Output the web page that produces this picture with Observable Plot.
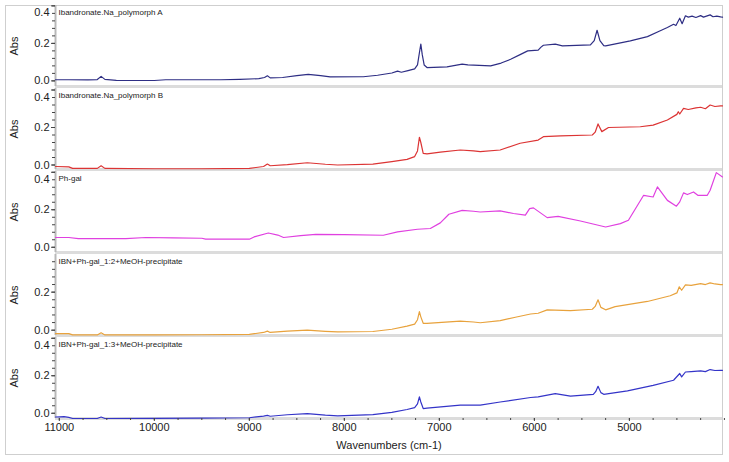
<!DOCTYPE html>
<html>
<head>
<meta charset="utf-8">
<script src="https://cdn.jsdelivr.net/npm/d3@7"></script>
<script src="https://cdn.jsdelivr.net/npm/@observablehq/plot@0.6"></script>
<style>
  html, body { margin: 0; padding: 0; background: #fff; }
  #wrap { position: relative; width: 729px; height: 462px; overflow: hidden; font-family: "Liberation Sans", Arial, sans-serif; }
  #frame { position: absolute; left: 5px; top: 5px; width: 716px; height: 448px; border: 1.5px solid #cfcfcf; }
  #wrap svg { position: absolute; left: 0; }
</style>
</head>
<body>
<div id="wrap"><div id="frame"></div></div>
<script>
// ---- data (wavenumber cm-1, absorbance) ----
const titles = [
  "Ibandronate.Na_polymorph A",
  "Ibandronate.Na_polymorph B",
  "Ph-gal",
  "IBN+Ph-gal_1:2+MeOH-precipitate",
  "IBN+Ph-gal_1:3+MeOH-precipitate"
];
const colors = ["#2e2e84", "#dc3434", "#e040e0", "#e8a23c", "#3434c8"];

const wnA  = [11040,10900,10700,10600,10560,10520,10400,10000,9880,9300,9100,8900,8840,8810,8780,8650,8500,8380,8250,8150,7800,7650,7500,7440,7400,7330,7260,7230,7210,7195,7180,7160,7130,6920,6760,6700,6640,6460,6350,6250,6150,6070,5960,5930,5905,5780,5705,5410,5370,5340,5310,5270,5250,4990,4810,4675,4600,4570,4535,4510,4470,4445,4410,4380,4340,4300,4250,4220,4150,4120,4080,4040,4020];
const absA = [0.006,0.006,0.005,0.007,0.024,0.008,0.003,0.002,0.006,0.006,0.008,0.012,0.018,0.027,0.016,0.018,0.028,0.035,0.028,0.021,0.022,0.030,0.042,0.052,0.046,0.055,0.064,0.085,0.150,0.196,0.140,0.085,0.071,0.075,0.089,0.085,0.084,0.080,0.095,0.115,0.140,0.160,0.164,0.180,0.190,0.196,0.187,0.192,0.215,0.270,0.215,0.188,0.187,0.213,0.236,0.267,0.285,0.293,0.302,0.295,0.334,0.305,0.347,0.340,0.345,0.338,0.348,0.340,0.352,0.342,0.345,0.341,0.340];

const wnB  = [11040,10900,10860,10600,10560,10520,10000,9500,9000,8850,8810,8780,8600,8390,8200,8070,7700,7500,7340,7260,7230,7210,7195,7170,7130,6990,6780,6640,6570,6360,6150,5960,5905,5725,5390,5360,5330,5290,5220,4885,4750,4600,4500,4485,4470,4430,4380,4300,4250,4200,4150,4100,4040,4020];
const absB = [-0.008,-0.010,-0.018,-0.018,-0.004,-0.018,-0.020,-0.020,-0.018,-0.008,0.005,-0.004,0.002,0.012,0.004,0.000,0.005,0.018,0.030,0.045,0.075,0.148,0.120,0.062,0.059,0.069,0.080,0.075,0.071,0.080,0.116,0.133,0.151,0.155,0.160,0.175,0.219,0.178,0.200,0.204,0.213,0.240,0.270,0.284,0.272,0.302,0.296,0.305,0.308,0.300,0.320,0.312,0.315,0.315];

const wnC  = [11040,10900,10800,10300,10090,9800,9500,9460,9000,8950,8800,8700,8640,8460,8300,8000,7590,7440,7230,7095,6990,6900,6760,6640,6570,6360,6220,6095,6050,6010,5865,5750,5515,5250,5095,5010,4850,4750,4705,4600,4505,4470,4430,4390,4325,4280,4180,4150,4085,4020];
const absC = [0.052,0.052,0.046,0.046,0.052,0.050,0.048,0.043,0.043,0.055,0.076,0.065,0.052,0.062,0.069,0.067,0.064,0.082,0.096,0.100,0.130,0.176,0.197,0.192,0.188,0.194,0.180,0.171,0.206,0.210,0.158,0.165,0.140,0.108,0.126,0.144,0.277,0.268,0.322,0.250,0.219,0.242,0.290,0.281,0.295,0.277,0.277,0.304,0.398,0.375];

const wnD  = [11040,10900,10860,10600,10560,10520,10000,9500,9000,8850,8810,8780,8600,8390,8200,8070,7700,7500,7340,7260,7230,7210,7195,7170,7130,6780,6640,6570,6360,6200,6040,5960,5865,5620,5390,5360,5330,5300,5250,5150,4810,4570,4500,4475,4450,4410,4350,4250,4200,4150,4100,4040,4020];
const absD = [-0.018,-0.018,-0.025,-0.025,-0.014,-0.025,-0.025,-0.024,-0.022,-0.012,-0.005,-0.012,-0.005,0.000,-0.006,-0.009,-0.007,0.005,0.021,0.032,0.055,0.098,0.070,0.036,0.036,0.048,0.043,0.039,0.050,0.068,0.085,0.089,0.107,0.103,0.110,0.125,0.160,0.120,0.107,0.124,0.151,0.181,0.196,0.228,0.210,0.238,0.236,0.245,0.240,0.249,0.243,0.240,0.240];

const wnE  = [11040,10950,10900,10860,10600,10560,10520,10000,9500,9000,8850,8810,8780,8600,8390,8200,8070,7700,7500,7340,7260,7230,7210,7195,7170,7130,6780,6570,6360,6040,5960,5780,5620,5380,5355,5330,5300,5270,5020,4750,4535,4470,4450,4410,4350,4250,4200,4150,4100,4040,4020];
const absE = [-0.020,-0.018,-0.022,-0.028,-0.028,-0.020,-0.028,-0.027,-0.026,-0.024,-0.015,-0.011,-0.016,-0.008,-0.002,-0.010,-0.014,-0.007,0.005,0.020,0.030,0.050,0.087,0.060,0.025,0.027,0.043,0.043,0.060,0.084,0.087,0.105,0.091,0.101,0.115,0.144,0.110,0.101,0.119,0.149,0.176,0.212,0.194,0.220,0.222,0.226,0.222,0.233,0.228,0.229,0.229];

const xMajorTicks = [11000, 10000, 9000, 8000, 7000, 6000, 5000];
const yMajorTicks = [0.0, 0.2, 0.4];

// ---- build ----
const series = [[wnA, absA], [wnB, absB], [wnC, absC], [wnD, absD], [wnE, absE]];
const yMins = [-0.030, -0.024, -0.028, -0.028, -0.028];
const span = 0.432;
const xDomain = [11040, 4020];
const wrap = document.getElementById("wrap");

series.forEach(([wn, ab], i) => {
  const last = i === series.length - 1;
  const yMin = yMins[i];
  const yMax = i === 3 ? 0.398 : yMin + span;
  const data = wn.map((w, k) => ({wn: w, abs: ab[k]}));
  const minorY = d3.range(-0.04, 0.441, 0.04).filter(v => v >= yMin && v <= yMax);
  const majorY = yMajorTicks.filter(v => v >= yMin && v <= yMax);
  const lowY = majorY.filter(v => v < 0.39);
  const topY = majorY.filter(v => v >= 0.39);
  const marks = [
    Plot.ruleY([yMin], {stroke: "#dcdcdc", strokeWidth: 3}),
    Plot.ruleX([xDomain[0]], {stroke: "#b8b8b8", strokeWidth: 2}),
    Plot.axisY({ticks: minorY, tickSize: 3, text: null, label: null, stroke: "#444"}),
    Plot.axisY({ticks: majorY, tickSize: 4, text: null, label: null, stroke: "#444"}),
    Plot.text(lowY, {
      x: xDomain[0], y: d => d, text: d => d.toFixed(1),
      dx: -6, textAnchor: "end", lineAnchor: "middle", fontSize: 11, fill: "#222"
    }),
    Plot.text(topY, {
      x: xDomain[0], y: d => d, text: d => d.toFixed(1),
      dx: -6, dy: 7, textAnchor: "end", lineAnchor: "middle", fontSize: 11, fill: "#222"
    }),
    Plot.line(data, {x: "wn", y: "abs", stroke: colors[i], strokeWidth: 1.2}),
    Plot.text([titles[i]], {frameAnchor: "top-left", dx: 3, dy: 4, fontSize: 8, fill: "#222", textAnchor: "start", lineAnchor: "top"}),
    Plot.text(["Abs"], {frameAnchor: "left", dx: -41, rotate: -90, fontSize: 11, fill: "#222", textAnchor: "middle", lineAnchor: "middle"})
  ];
  if (last) {
    marks.push(
      Plot.axisX({ticks: d3.range(4000, 11001, 250), tickSize: 2, text: null, label: null, stroke: "#444"}),
      Plot.axisX({ticks: xMajorTicks, tickSize: 3, tickPadding: 2, tickFormat: d3.format("d"), fontSize: 11, fill: "#222", label: null, stroke: "#444"}),
      Plot.text(["Wavenumbers (cm-1)"], {frameAnchor: "bottom", dy: 27, fontSize: 11, fill: "#222", lineAnchor: "middle"})
    );
  }
  const svg = Plot.plot({
    width: 729,
    height: last ? 120 : 83,
    marginLeft: 55,
    marginRight: 7,
    marginTop: 0,
    marginBottom: last ? 39 : 2,
    x: {domain: xDomain, axis: null},
    y: {domain: [yMin, yMax], axis: null},
    style: {overflow: "visible", background: "transparent", fontFamily: "'Liberation Sans', Arial, sans-serif"},
    marks
  });
  svg.style.top = (5 + 83 * i) + "px";
  wrap.appendChild(svg);
});
</script>
</body>
</html>
